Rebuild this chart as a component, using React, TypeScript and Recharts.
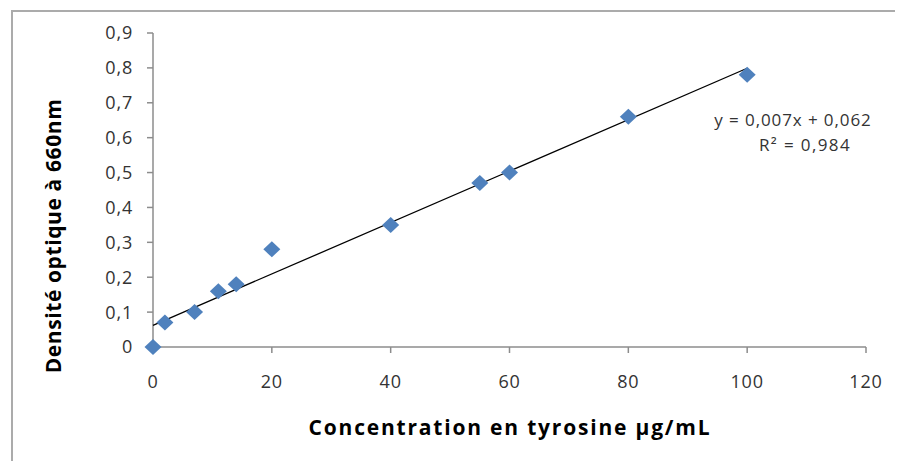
import React from "react";
import { ScatterChart, Scatter, XAxis, YAxis, Customized } from "recharts";

const concentrations = [0, 2, 7, 11, 14, 20, 40, 55, 60, 80, 100];
const absorbances = [0, 0.07, 0.1, 0.16, 0.18, 0.28, 0.35, 0.47, 0.5, 0.66, 0.78];
const trendX = [0, 100];
const trendY = [0.062, 0.799];
const xTicks = [0, 20, 40, 60, 80, 100, 120];
const yTicks = [0, 0.1, 0.2, 0.3, 0.4, 0.5, 0.6, 0.7, 0.8, 0.9];
const equationText = "y = 0,007x + 0,062";
const r2Text = "R² = 0,984";
const xTitle = "Concentration en tyrosine µg/mL";
const yTitle = "Densité optique à 660nm";

const points = concentrations.map((x, i) => ({ x, y: absorbances[i] }));
const trend = trendX.map((x, i) => ({ x, y: trendY[i] }));

const FONT = "'Open Sans', sans-serif";
const TICK_COLOR = "#333333";
const AXIS_COLOR = "#8c8c8c";
const TICK_STYLE = { fill: TICK_COLOR, fontSize: 18, fontFamily: FONT, letterSpacing: 0.8 };

const Diamond = (props: any) => {
  const { cx, cy } = props;
  const w = 8.5, h = 8;
  return (
    <polygon
      points={`${cx},${cy - h} ${cx + w},${cy} ${cx},${cy + h} ${cx - w},${cy}`}
      fill="#4F81BD"
    />
  );
};

const fmt = (v: number) => String(Math.round(v * 10) / 10).replace(".", ",");

const Annotations = () => (
  <g fontFamily={FONT}>
    <text x={785} y={118} textAnchor="middle" fontSize={17} letterSpacing={0.9} fill={TICK_COLOR}>
      {equationText}
    </text>
    <text x={797} y={143} textAnchor="middle" fontSize={17} letterSpacing={1.4} fill={TICK_COLOR}>
      {r2Text}
    </text>
    <text
      x={502}
      y={427}
      textAnchor="middle"
      fontSize={21}
      fontWeight={700}
      letterSpacing={1.8}
      fill="#000"
    >
      {xTitle}
    </text>
    <text
      x={53}
      y={228}
      transform="rotate(-90 53 228)"
      textAnchor="middle"
      fontSize={21}
      fontWeight={700}
      letterSpacing={0.6}
      fill="#000"
    >
      {yTitle}
    </text>
  </g>
);

export default function App() {
  return (
    <div style={{ position: "relative", width: 895, height: 453, background: "#fff" }}>
      <div
        style={{
          position: "absolute",
          left: 3,
          top: 2,
          right: 0,
          bottom: 0,
          borderTop: "2px solid #ababab",
          borderLeft: "2px solid #ababab",
        }}
      />
      <div style={{ position: "absolute", left: 0, top: 0 }}>
        <ScatterChart
          width={895}
          height={453}
          margin={{ top: 25, right: 37, bottom: 54, left: 0 }}
        >
          <XAxis
            type="number"
            dataKey="x"
            domain={[0, 120]}
            ticks={xTicks}
            interval={0}
            height={60}
            stroke={AXIS_COLOR}
            strokeWidth={1.5}
            tickSize={6}
            tickMargin={22}
            tick={TICK_STYLE}
          />
          <YAxis
            type="number"
            dataKey="y"
            domain={[0, 0.9]}
            ticks={yTicks}
            interval={0}
            width={145}
            stroke={AXIS_COLOR}
            strokeWidth={1.5}
            tickSize={6}
            tickMargin={14}
            tickFormatter={fmt}
            tick={TICK_STYLE}
          />
          <Scatter
            data={trend}
            line={{ stroke: "#000", strokeWidth: 1.3 }}
            shape={() => null}
            isAnimationActive={false}
          />
          <Scatter data={points} shape={Diamond} isAnimationActive={false} />
          <Customized component={Annotations} />
        </ScatterChart>
      </div>
    </div>
  );
}
